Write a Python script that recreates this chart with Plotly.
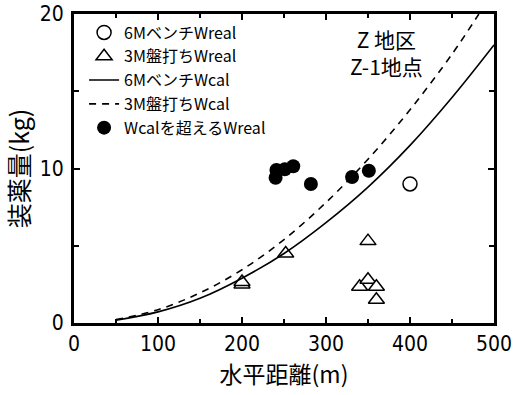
import plotly.graph_objects as go

# 6Mベンチ Wreal (open circles)
bench_x = [400]
bench_y = [9.0]

# 3M盤打ち Wreal (open triangles)
ban_x = [200, 200, 252, 350, 340, 350, 360, 360]
ban_y = [2.5, 2.65, 4.5, 5.3, 2.35, 2.8, 2.35, 1.5]

# 6Mベンチ Wcal (solid curve)
cal6_x = [50, 100, 150, 200, 250, 300, 350, 400, 450, 500]
cal6_y = [0.18, 0.72, 1.6, 2.9, 4.5, 6.5, 8.8, 11.5, 14.6, 18.0]

# 3M盤打ち Wcal (dashed curve)
cal3_x = [50, 100, 150, 200, 250, 300, 350, 400, 450, 482]
cal3_y = [0.22, 0.86, 1.95, 3.45, 5.4, 7.8, 10.6, 13.8, 17.4, 20.0]

# Wcal を超える Wreal (filled circles)
over_x = [240, 241, 251, 261, 282, 331, 351]
over_y = [9.4, 9.9, 9.95, 10.15, 9.0, 9.45, 9.85]

JP = "Noto Sans CJK JP"
NUM = "Liberation Sans Narrow, DejaVu Sans Condensed, Liberation Sans, sans-serif"

fig = go.Figure()
fig.add_trace(go.Scatter(x=bench_x, y=bench_y, mode="markers", name="6MベンチWreal",
                         marker=dict(symbol="circle-open", size=14, color="black", line=dict(width=1.5))))
fig.add_trace(go.Scatter(x=ban_x, y=ban_y, mode="markers", name="3M盤打ちWreal",
                         marker=dict(symbol="triangle-up", size=14, color="white",
                                     line=dict(width=1.5, color="black"))))
fig.add_trace(go.Scatter(x=cal6_x, y=cal6_y, mode="lines", name="6MベンチWcal",
                         line=dict(color="black", width=1.6, shape="spline")))
fig.add_trace(go.Scatter(x=cal3_x, y=cal3_y, mode="lines", name="3M盤打ちWcal",
                         line=dict(color="black", width=1.6, dash="7px,6px", shape="spline")))
fig.add_trace(go.Scatter(x=over_x, y=over_y, mode="markers", name="Wcalを超えるWreal",
                         marker=dict(symbol="circle", size=14, color="black")))

axis_common = dict(showline=True, linecolor="black", linewidth=3, mirror="ticks",
                   ticks="inside", ticklen=6, tickwidth=2, tickcolor="black",
                   showgrid=False, zeroline=False, automargin=False,
                   tickfont=dict(family=NUM, size=21, color="black"))

fig.update_xaxes(range=[0, 500], dtick=100, tick0=0, ticklabelstandoff=0,
                 minor=dict(dtick=50, ticks="inside", ticklen=4, tickwidth=2, tickcolor="black"),
                 title=dict(text="水平距離(m)", font=dict(family=JP, size=23, color="black"), standoff=6),
                 **axis_common)
fig.update_yaxes(range=[0, 20], dtick=10, tick0=0, ticklabelstandoff=3,
                 minor=dict(dtick=5, ticks="inside", ticklen=5, tickwidth=2, tickcolor="black"),
                 title=dict(text="装薬量(kg)", font=dict(family=JP, size=25, color="black"), standoff=6),
                 **axis_common)

fig.add_annotation(x=0.745, y=0.874, xref="paper", yref="paper", text="Z 地区<br>Z-1地点",
                   xanchor="center", yanchor="middle", align="center",
                   showarrow=False, font=dict(family=JP, size=21, color="black"))

fig.update_layout(
    width=514, height=395,
    margin=dict(l=74, r=20, t=14, b=72),
    plot_bgcolor="white", paper_bgcolor="white",
    font=dict(family=JP, color="black"),
    legend=dict(x=0.024, y=0.995, xanchor="left", yanchor="top", bgcolor="rgba(0,0,0,0)",
                font=dict(family=JP, size=16, color="black"), tracegroupgap=0, itemwidth=30),
    showlegend=True,
)

fig.write_html("out.html", config={"displayModeBar": False},
               post_script="document.body.style.margin='0px';")
